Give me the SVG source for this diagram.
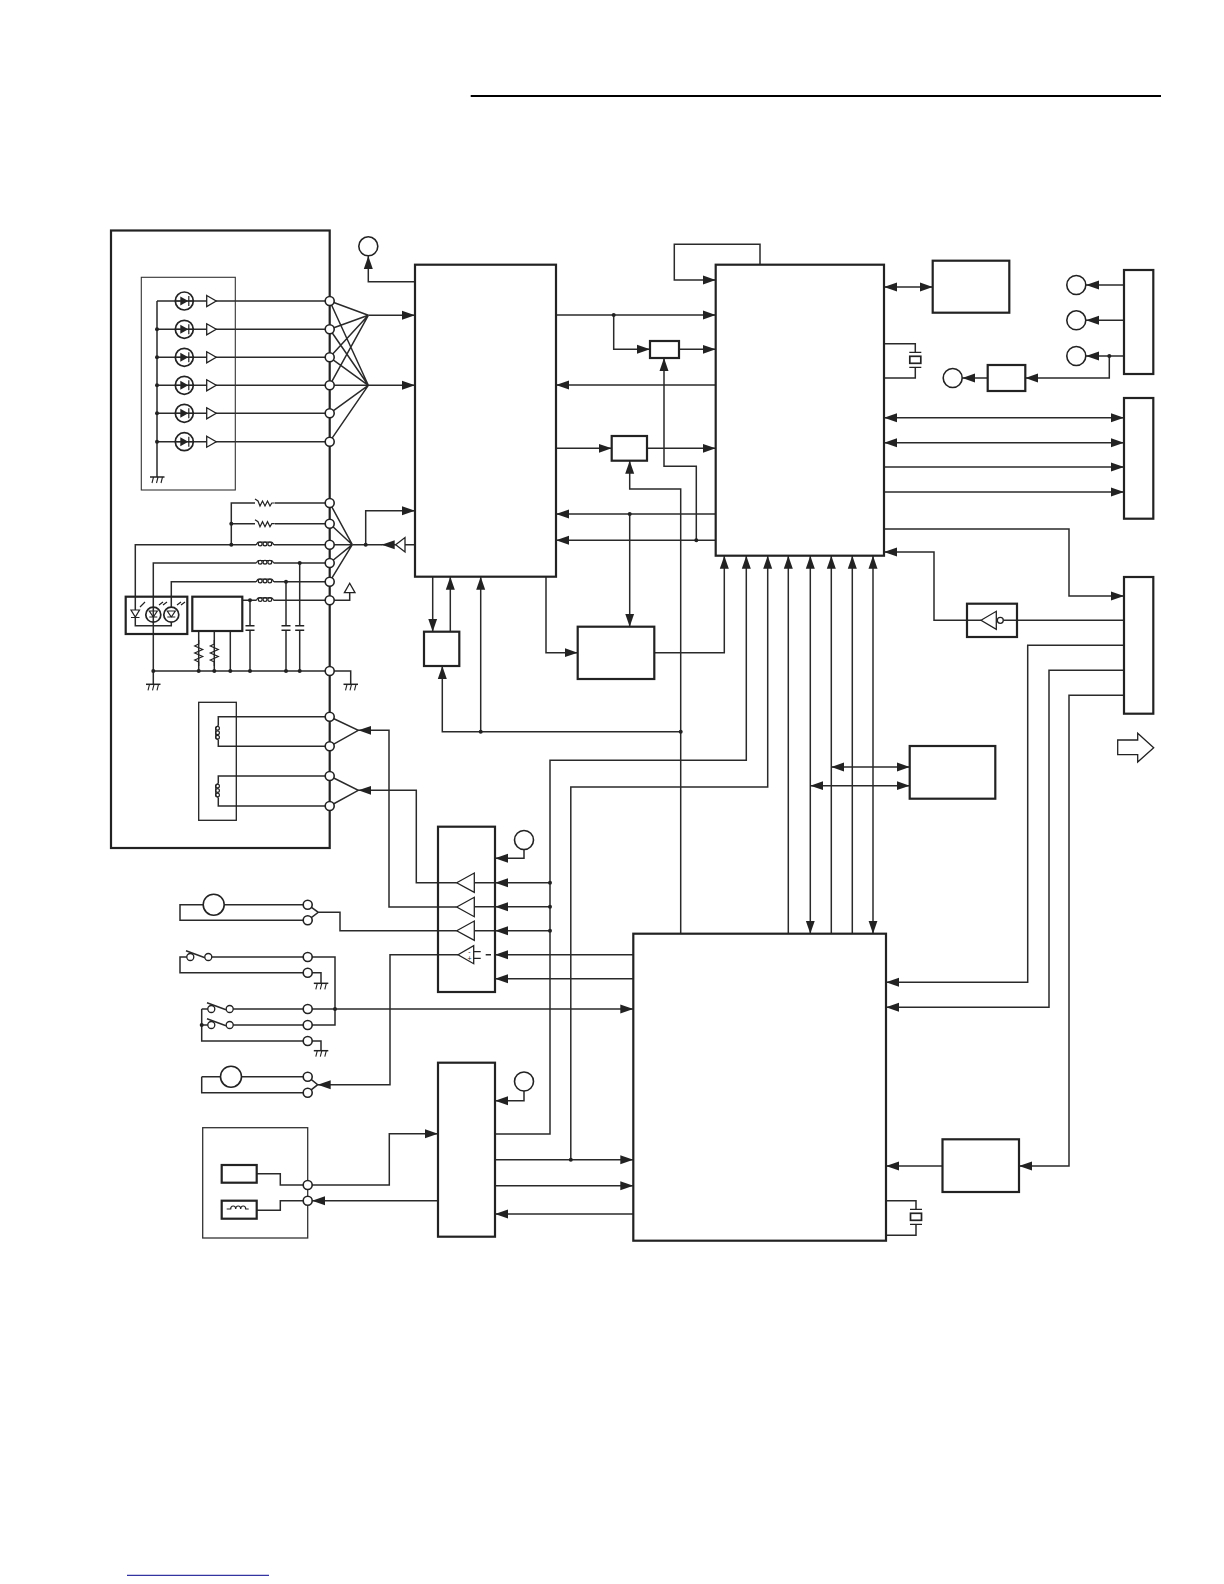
<svg xmlns="http://www.w3.org/2000/svg" width="1224" height="1584" viewBox="0 0 1224 1584">
<style>
.w{fill:none;stroke:#2a2a2a;stroke-width:1.5}
.a{marker-end:url(#ah)}
.d{marker-start:url(#ahs);marker-end:url(#ah)}
.b{fill:#fff;stroke:#222;stroke-width:2.200}
.c{fill:none;stroke:#222;stroke-width:2.200}
.t{fill:none;stroke:#333;stroke-width:1.100}
.o{fill:#fff;stroke:#222;stroke-width:1.600}
.p{fill:#fff;stroke:#222;stroke-width:1.300}
.s{fill:none;stroke:#222;stroke-width:1.200}
.dot{fill:#222}
.mk{font-family:"Liberation Sans",Arial,sans-serif;font-size:7px;fill:#222;text-anchor:middle}
</style>
<defs>
<marker id="ah" markerUnits="userSpaceOnUse" markerWidth="14" markerHeight="11" refX="13" refY="5" orient="auto"><path d="M0 0.500L13 5L0 9.500Z" fill="#222"/></marker>
<marker id="ahs" markerUnits="userSpaceOnUse" markerWidth="14" markerHeight="11" refX="13" refY="5" orient="auto-start-reverse"><path d="M0 0.500L13 5L0 9.500Z" fill="#222"/></marker>
<g id="gnd"><path d="M-7.500 0H7" fill="none" stroke="#222" stroke-width="1.500"/><path d="M-4 0l-1.500 6M0.500 0l-1.500 6M5 0l-1.500 6" fill="none" stroke="#222" stroke-width="1.100"/></g>
<g id="led"><circle r="9" class="c" style="stroke-width:1.700"/><path d="M-9 0H-4M4 0H9" class="s"/><path d="M-4 -4.500L4 0L-4 4.500Z" fill="#222"/><path d="M4.500 -5V5" class="s"/></g>
<g id="buf"><path d="M0 -5.500L9.500 0L0 5.500Z" class="p"/></g>
<g id="hcoil"><path d="M-9 0c1 0 1 -2.500 2.500 -2.500h13c1.500 0 1.500 2.500 2.500 2.500" class="s"/><circle cx="-4.800" cy="-0.800" r="1.900" class="s"/><circle cx="0" cy="-0.800" r="1.900" class="s"/><circle cx="4.800" cy="-0.800" r="1.900" class="s"/></g>
<g id="pres"><path d="M-10 -4l3 2l2 5l2.500 -5l2.500 5l2.500 -5l2.500 5l1.800 -3h3" class="s"/></g>
<g id="vres"><path d="M0 0v4l-4 2l8 3.500l-8 3.500l8 3.500l-8 3.500l4 2v4" class="s"/></g>
<g id="cap"><path d="M-4.500 0H4.500M-4.500 4.500H4.500" fill="none" stroke="#222" stroke-width="1.500"/></g>
<g id="vcoil"><path d="M0 0c-2.500 1 -2.500 2 -2.500 2.500v9c0 .5 0 1.500 2.500 2.500" class="s"/><circle cx="-0.800" cy="2.500" r="1.900" class="s"/><circle cx="-0.800" cy="7" r="1.900" class="s"/><circle cx="-0.800" cy="11.500" r="1.900" class="s"/></g>
<g id="xtal"><path d="M-6 0H6M-6 15H6" fill="none" stroke="#222" stroke-width="1.300"/><rect x="-5.500" y="4" width="11" height="7" fill="#fff" stroke="#222" stroke-width="1.700"/></g>
</defs>

<rect width="1224" height="1584" fill="#fff"/>
<path id="header-rule" d="M470.700 96H1161" fill="none" stroke="#000" stroke-width="2"/>
<path id="footer-link" d="M127 1575.300H269" fill="none" stroke="#00008b" stroke-width="1"/>

<g id="connectors">
<path class="w" d="M157 301V477M157 301H329.700M157 329.300H329.700M157 357.300H329.700M157 385.300H329.700M157 413.300H329.700M157 441.700H329.700"/>
<path class="w" d="M329.700 301L368.300 315.300M329.700 329.300L368.300 315.300M329.700 357.300L368.300 315.300M329.700 385.300L368.300 315.300M329.700 301L368.300 385.300M329.700 329.300L368.300 385.300M329.700 357.300L368.300 385.300M329.700 413.300L368.300 385.300M329.700 441.700L368.300 385.300"/>
<path class="w a" d="M368.300 315.300H415"/>
<path class="w a" d="M329.700 385.300H415"/>
<path class="w a" d="M415 281.700H368.300V256"/>
<path class="w" d="M231.300 544.700V503H255M275 503H329.700M231.300 523.700H255M275 523.700H329.700"/>
<path class="w" d="M135.300 610V544.700H256M274 544.700H329.700M153.300 684V563H256M274 563H329.700M171.300 607V581.700H256M274 581.700H329.700M242.300 600.300H256M274 600.300H329.700"/>
<path class="w" d="M135.300 618V625.700H171.300V622M153.300 671H330M330 671H350.700V684.300M198.700 631V671M214.300 631V671M230.300 631V671"/>
<path class="w" d="M250 600.300V625.700M250 630.300V671M286 581.700V625.700M286 630.300V671M299.700 563V625.700M299.700 630.300V671"/>
<path class="w" d="M329.700 503L352.300 544.700M329.700 523.700L352.300 544.700M329.700 544.700H352.300M329.700 563L352.300 544.700M329.700 581.700L352.300 544.700"/>
<path class="w a" d="M395.700 544.700H381.700"/>
<path class="w" d="M352.300 544.700H382M405 544.700H415"/>
<path class="w a" d="M365.700 544.700V510.700H415"/>
<path class="w" d="M329.700 600.300H349.700V592.700"/>
<path class="w" d="M329.700 716.700H218.300V725.700M218.300 739.700V746.300H329.700M329.700 776H218.300V783.500M218.300 797.500V806H329.700"/>
<path class="w" d="M329.700 716.700L358.300 730.300L329.700 746.300M329.700 776L358.300 790.300L329.700 806"/>
<path class="w a" d="M456.700 907H389V730.300H358.300"/>
<path class="w a" d="M456.700 882.700H416.300V790.300H358.300"/>
<path class="w" d="M203 904.700H180V920.300H307.700M224 904.700H307.700M307.700 904.700L318.300 912.300L307.700 920.300M318.300 912.300H340V930.700H456.700"/>
<path class="w" d="M190 957H180V972.700H307.700M208.300 957H335V1025H229.700M307.700 972.700H321V983.300M229.700 1009H307.700M201.700 1009H211.300M201.700 1009V1041H307.700M201.700 1025H211.300M307.700 1041H321V1050.700"/>
<path class="w" d="M186 950.700L205 957.700M207 1002.700L226 1009.700M207 1018.700L226 1025.700"/>
<path class="w a" d="M307.700 1009H633.300"/>
<path class="w" d="M220.500 1076.700H307.700M201.700 1076.700H220.500M201.700 1076.700V1092.700H307.700M307.700 1076.700L317.700 1084.700L307.700 1092.700"/>
<path class="w a" d="M458 954.700H390V1084.700H317.700"/>
<path class="w" d="M256.700 1173.700H280.300V1185H307.700M256.700 1210.300H280.300V1200.700H307.700"/>
<path class="w a" d="M307.700 1185H389.300V1133.700H438"/>
<path class="w a" d="M438 1200.700H312"/>
<path class="w a" d="M556 315H715.700"/>
<path class="w a" d="M613.700 315V349.300H650"/>
<path class="w a" d="M679 349.300H715.700"/>
<path class="w a" d="M696.300 540.300V466.300H664V358"/>
<path class="w a" d="M715.700 385H556"/>
<path class="w a" d="M556 448.300H611.700"/>
<path class="w a" d="M647 448.300H715.700"/>
<path class="w a" d="M680.700 933.700V489H629.700V460.700"/>
<path class="w a" d="M715.700 514H556"/>
<path class="w a" d="M629.700 514V626.700"/>
<path class="w a" d="M715.700 540.300H556"/>
<path class="w a" d="M546 576.700V652.700H577.700"/>
<path class="w a" d="M654.300 652.700H724.300V555.700"/>
<path class="w a" d="M432.700 576.700V631.700"/>
<path class="w a" d="M450.300 631.700V576.700"/>
<path class="w a" d="M480.700 731.700V576.700"/>
<path class="w a" d="M680.700 731.700H442.300V666"/>
<path class="w a" d="M760 264.700V244.300H674.300V280H715.700"/>
<path class="w d" d="M884 287H932.700"/>
<path class="w" d="M884 343.700H915.300V352.300M915.300 367.300V378H884"/>
<path class="w a" d="M1124 285H1086"/>
<path class="w a" d="M1124 320.300H1086"/>
<path class="w a" d="M1124 356H1086"/>
<path class="w a" d="M1109.300 356V378H1025.300"/>
<path class="w a" d="M987.700 378H962.300"/>
<path class="w d" d="M884 417.700H1124"/>
<path class="w d" d="M884 442.700H1124"/>
<path class="w a" d="M884 467H1124"/>
<path class="w a" d="M884 492H1124"/>
<path class="w a" d="M884 529H1069V596H1124"/>
<path class="w a" d="M981 620.300H934V552H884"/>
<path class="w" d="M1003.300 620.300H1124"/>
<path class="w a" d="M1124 645.300H1027.700V982.300H886"/>
<path class="w a" d="M1124 670.300H1049V1007.300H886" style="marker-end:url(#ah)"/>
<path class="w a" d="M1124 695.300H1069V1166H1019"/>
<path class="w a" d="M942.500 1166H886"/>
<path class="w a" d="M570.800 1159.700V787H767.700V555.700"/>
<path class="w a" d="M495 1134H550V760.300H746.300V555.700"/>
<path class="w a" d="M788.300 933.700V555.700"/>
<path class="w d" d="M810.300 555.700V933.700"/>
<path class="w a" d="M831.300 933.700V555.700"/>
<path class="w a" d="M852.300 933.700V555.700"/>
<path class="w d" d="M873 555.700V933.700"/>
<path class="w d" d="M831.300 767H909.700"/>
<path class="w d" d="M810.300 785.700H909.700"/>
<path class="w a" d="M524 849V858.300H495"/>
<path class="w" d="M495 882.700H474.300M495 906.800H474.300M495 930.700H474.300M485.700 954.700H491"/>
<path class="w a" d="M633.300 954.700H495"/>
<path class="w a" d="M633.300 978.700H495"/>
<path class="w a" d="M550 882.700H495"/>
<path class="w a" d="M550 906.800H495"/>
<path class="w a" d="M550 930.700H495"/>
<path class="w a" d="M524 1090.500V1100.700H495"/>
<path class="w a" d="M495 1159.700H633.300"/>
<path class="w a" d="M495 1185.700H633.300"/>
<path class="w a" d="M633.300 1214H495"/>
<path class="w" d="M886 1200.700H916V1209.300M916 1224.300V1235.300H886"/>
<g class="dot">
<circle cx="157" cy="329.300" r="2"/><circle cx="157" cy="357.300" r="2"/><circle cx="157" cy="385.300" r="2"/><circle cx="157" cy="413.300" r="2"/><circle cx="157" cy="441.700" r="2"/>
<circle cx="231.300" cy="523.700" r="2"/><circle cx="231.300" cy="544.700" r="2"/><circle cx="365.700" cy="544.700" r="2"/>
<circle cx="250" cy="600.300" r="2"/><circle cx="286" cy="581.700" r="2"/><circle cx="299.700" cy="563" r="2"/>
<circle cx="153.300" cy="671" r="2"/><circle cx="198.700" cy="671" r="2"/><circle cx="214.300" cy="671" r="2"/><circle cx="230.300" cy="671" r="2"/><circle cx="250" cy="671" r="2"/><circle cx="286" cy="671" r="2"/><circle cx="299.700" cy="671" r="2"/>
<circle cx="613.700" cy="315" r="2"/><circle cx="629.700" cy="514" r="2"/><circle cx="696.300" cy="540.300" r="2"/><circle cx="680.700" cy="731.700" r="2"/><circle cx="480.700" cy="731.700" r="2"/>
<circle cx="1109.300" cy="356" r="2"/><circle cx="550" cy="882.700" r="2"/><circle cx="550" cy="906.800" r="2"/><circle cx="550" cy="930.700" r="2"/><circle cx="570.800" cy="1159.700" r="2"/>
<circle cx="335" cy="1009" r="2"/><circle cx="201.700" cy="1025" r="2"/>
</g>
</g>

<g id="sensor-module">
<rect class="c" x="111" y="230.500" width="218.700" height="617.500"/>
<rect class="t" x="141.300" y="277.300" width="94" height="212.700"/>
<use href="#gnd" x="157.500" y="477"/>
<use href="#led" x="184.300" y="301"/><use href="#led" x="184.300" y="329.300"/><use href="#led" x="184.300" y="357.300"/><use href="#led" x="184.300" y="385.300"/><use href="#led" x="184.300" y="413.300"/><use href="#led" x="184.300" y="441.700"/>
<use href="#buf" x="206.700" y="301"/><use href="#buf" x="206.700" y="329.300"/><use href="#buf" x="206.700" y="357.300"/><use href="#buf" x="206.700" y="385.300"/><use href="#buf" x="206.700" y="413.300"/><use href="#buf" x="206.700" y="441.700"/>
<use href="#pres" x="265" y="503"/><use href="#pres" x="265" y="523.700"/>
<use href="#hcoil" x="265" y="544.700"/><use href="#hcoil" x="265" y="563"/><use href="#hcoil" x="265" y="581.700"/><use href="#hcoil" x="265" y="600.300"/>
<rect class="c" x="125.700" y="596.700" width="61.600" height="37.300"/>
<path d="M131 610h8.500l-4.200 7zM131 617.500h8.500" class="s"/>
<circle cx="153.300" cy="614.700" r="7.500" class="c" style="stroke-width:1.700"/><circle cx="171.300" cy="614.700" r="7.500" class="c" style="stroke-width:1.700"/>
<path d="M149.300 611h8l-4 6zM149.300 617h8M167.300 611h8l-4 6zM167.300 617h8" class="s"/>
<path d="M140 607l5 -5M143 606.500l0 0M159 605l4 -3M163 605l4 -3M177 605l4 -3M181 605l4 -3" class="s"/>
<rect class="b" x="192.300" y="596.700" width="50" height="34.300"/>
<use href="#vres" x="198.700" y="640"/><use href="#vres" x="214.300" y="640"/>
<use href="#cap" x="250" y="625.700"/><use href="#cap" x="286" y="625.700"/><use href="#cap" x="299.700" y="625.700"/>
<use href="#gnd" x="153.500" y="684.300"/><use href="#gnd" x="351" y="684.300"/>
<path d="M349.700 583.300L355 592.700H344.400Z" class="p"/>
<rect x="198.700" y="702.300" width="37.600" height="118" fill="none" stroke="#222" stroke-width="1.300"/>
<use href="#vcoil" x="218.300" y="725.700"/><use href="#vcoil" x="218.300" y="783.500"/>
<g>
<circle class="o" cx="329.700" cy="301" r="4.500"/><circle class="o" cx="329.700" cy="329.300" r="4.500"/><circle class="o" cx="329.700" cy="357.300" r="4.500"/><circle class="o" cx="329.700" cy="385.300" r="4.500"/><circle class="o" cx="329.700" cy="413.300" r="4.500"/><circle class="o" cx="329.700" cy="441.700" r="4.500"/>
<circle class="o" cx="329.700" cy="503" r="4.500"/><circle class="o" cx="329.700" cy="523.700" r="4.500"/><circle class="o" cx="329.700" cy="544.700" r="4.500"/><circle class="o" cx="329.700" cy="563" r="4.500"/><circle class="o" cx="329.700" cy="581.700" r="4.500"/><circle class="o" cx="329.700" cy="600.300" r="4.500"/><circle class="o" cx="329.700" cy="671" r="4.500"/>
<circle class="o" cx="329.700" cy="716.700" r="4.500"/><circle class="o" cx="329.700" cy="746.300" r="4.500"/><circle class="o" cx="329.700" cy="776" r="4.500"/><circle class="o" cx="329.700" cy="806" r="4.500"/>
</g>
</g>

<g id="ref-top"><circle class="p" style="stroke-width:1.600" cx="368.300" cy="246.300" r="9.500"/></g>
<g id="block-a"><rect class="b" x="415" y="264.700" width="141" height="312"/></g>
<g id="block-b"><rect class="b" x="715.700" y="264.700" width="168.300" height="291"/></g>
<g id="small-1"><rect class="b" x="650" y="341" width="29" height="17"/></g>
<g id="small-2"><rect class="b" x="611.700" y="436" width="35.300" height="24.700"/></g>
<g id="small-3"><rect class="b" x="424" y="631.700" width="35.300" height="34.300"/></g>
<g id="box-3"><rect class="b" x="577.700" y="626.700" width="76.600" height="52.300"/></g>
<g id="buffer-a"><path class="p" d="M405 537.500V552L395.700 544.700Z"/></g>
<g id="mem-1"><rect class="b" x="932.700" y="260.700" width="76.600" height="52"/></g>
<g id="xtal-1"><use href="#xtal" x="915.300" y="352.300"/></g>
<g id="xtal-2"><use href="#xtal" x="916" y="1209.300"/></g>
<g id="conn-1"><rect class="b" x="1124" y="270" width="29.300" height="104"/></g>
<g id="conn-2"><rect class="b" x="1124" y="398" width="29.300" height="120.700"/></g>
<g id="conn-3"><rect class="b" x="1124" y="577" width="29.300" height="136.700"/></g>
<g id="pad-1"><circle class="p" style="stroke-width:1.600" cx="1076.300" cy="285" r="9.500"/></g>
<g id="pad-2"><circle class="p" style="stroke-width:1.600" cx="1076.300" cy="320.300" r="9.500"/></g>
<g id="pad-3"><circle class="p" style="stroke-width:1.600" cx="1076.300" cy="356" r="9.500"/></g>
<g id="pad-4"><circle class="p" style="stroke-width:1.600" cx="952.700" cy="378" r="9.500"/></g>
<g id="reg-1"><rect class="b" x="987.700" y="365" width="37.600" height="26"/></g>
<g id="inverter">
<rect class="c" x="967" y="603.700" width="50" height="33.300"/>
<path class="p" d="M981 620.300L996.300 611.300V629.300Z"/><circle class="p" cx="1000.300" cy="620.300" r="3"/>
</g>
<g id="mem-2"><rect class="b" x="909.700" y="746" width="85.600" height="52.700"/></g>
<g id="flow-arrow"><path d="M1117.700 740H1137.700V733.300L1153.700 747.700L1137.700 762V754.700H1117.700Z" fill="#fff" stroke="#222" stroke-width="1.300"/></g>
<g id="driver-ic">
<rect class="c" x="438" y="826.700" width="57" height="165.300"/>
<path class="p" d="M456.700 882.700L474.300 873V892.400Z"/><path class="p" d="M456.700 907L474.300 897.300V916.700Z"/><path class="p" d="M456.700 930.700L474.300 921V940.400Z"/><path class="p" d="M458 954.700L473.700 945.700V963.700Z"/>
<path class="s" d="M473.700 951.700H480.700M473.700 958.300H480.700"/>
<text class="mk" x="469.500" y="954">-</text><text class="mk" x="469.500" y="961">+</text>
</g>
<g id="ref-d1"><circle class="p" style="stroke-width:1.600" cx="524" cy="840" r="9.500"/></g>
<g id="ref-d2"><circle class="p" style="stroke-width:1.600" cx="524" cy="1081.500" r="9.500"/></g>
<g id="lower-ic"><rect class="b" x="438" y="1062.700" width="57" height="174"/></g>
<g id="main-ic"><rect class="b" x="633.300" y="933.700" width="252.700" height="307"/></g>
<g id="osc-box"><rect class="b" x="942.500" y="1139.300" width="76.500" height="52.700"/></g>
<g id="motor-1">
<circle class="p" style="stroke-width:1.600" cx="213.700" cy="904.700" r="10.500"/>
<circle class="o" cx="307.700" cy="904.700" r="4.500"/><circle class="o" cx="307.700" cy="920.300" r="4.500"/>
</g>
<g id="switch-1">
<circle class="p" cx="190.300" cy="957" r="3.500"/><circle class="p" cx="208.300" cy="957" r="3.500"/>
<circle class="o" cx="307.700" cy="957" r="4.500"/><circle class="o" cx="307.700" cy="972.700" r="4.500"/>
<use href="#gnd" x="321.300" y="983.300"/>
</g>
<g id="switch-2">
<circle class="p" cx="211.300" cy="1009" r="3.500"/><circle class="p" cx="229.700" cy="1009" r="3.500"/>
<circle class="p" cx="211.300" cy="1025" r="3.500"/><circle class="p" cx="229.700" cy="1025" r="3.500"/>
<circle class="o" cx="307.700" cy="1009" r="4.500"/><circle class="o" cx="307.700" cy="1025" r="4.500"/><circle class="o" cx="307.700" cy="1041" r="4.500"/>
<use href="#gnd" x="321.300" y="1050.700"/>
</g>
<g id="motor-2">
<circle class="p" style="stroke-width:1.600" cx="231" cy="1076.700" r="10.500"/>
<circle class="o" cx="307.700" cy="1076.700" r="4.500"/><circle class="o" cx="307.700" cy="1092.700" r="4.500"/>
</g>
<g id="head-unit">
<rect x="202.700" y="1127.700" width="105" height="110.300" fill="none" stroke="#333" stroke-width="1.300"/>
<rect class="b" x="221.700" y="1165" width="35" height="17.700"/>
<rect class="b" x="221.700" y="1200.700" width="35" height="18"/>
<path class="s" d="M226.700 1209h4c0 -4 5 -4 5 0c0 -4 5 -4 5 0c0 -4 5 -4 5 0h3"/>
<circle class="o" cx="307.700" cy="1185" r="4.500"/><circle class="o" cx="307.700" cy="1200.700" r="4.500"/>
</g>
</svg>
